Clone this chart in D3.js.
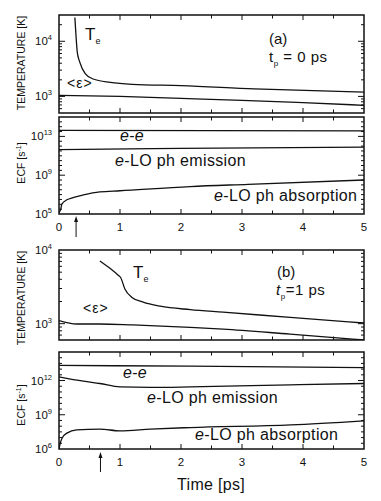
<!DOCTYPE html>
<html>
<head>
<meta charset="utf-8">
<script src="https://cdn.jsdelivr.net/npm/d3@7"></script>
<style>
  html, body { margin: 0; padding: 0; background: #fff; }
  svg { display: block; font-family: "Liberation Sans", Arial, Helvetica, sans-serif; }
</style>
</head>
<body>
<svg id="chart" width="381" height="501"></svg>
<script>
// --- data ---
const timeTicks = [0, 1, 2, 3, 4, 5];

// (a) t_p = 0 ps
const teA_t = [0.26, 0.28, 0.30, 0.34, 0.43, 0.56, 0.84, 1.2, 2.0, 3.2, 5];
const teA_v = [27000, 12000, 6300, 4200, 2600, 2070, 1800, 1660, 1570, 1370, 1195];
const epsA_t = [0, 1, 2, 3, 4, 5];
const epsA_v = [1040, 1000, 920, 850, 770, 690];
const eeA_t = [0, 5];
const eeA_v = [4.2e13, 3.8e13];
const emA_t = [0, 2, 5];
const emA_v = [4.3e11, 5.8e11, 8.0e11];
const abA_t = [0, 0.03, 0.045, 0.13, 0.23, 0.4, 0.67, 1.0, 2.15, 3.1, 5];
const abA_v = [1.4e5, 3.2e5, 1.0e6, 2.9e6, 5.0e6, 9.3e6, 1.9e7, 2.5e7, 6.8e7, 1.15e8, 3.2e8];
const arrowA_t = 0.28;

// (b) t_p = 1 ps
const teB_t = [0.67, 0.84, 0.97, 1.01, 1.08, 1.19, 1.38, 1.66, 2.15, 2.69, 3.79, 5];
const teB_v = [7100, 5600, 4550, 4230, 2960, 2290, 1960, 1725, 1550, 1430, 1220, 1020];
const epsB_t = [0, 0.29, 0.67, 1.21, 2.15, 2.69, 3.79, 5];
const epsB_v = [1100, 990, 990, 960, 890, 845, 720, 600];
const eeB_t = [0, 2.15, 5];
const eeB_v = [2.1e13, 1.8e13, 1.35e13];
const emB_t = [0, 0.4, 0.67, 1.0, 1.5, 2.15, 3.79, 5];
const emB_v = [2.1e12, 8.7e11, 5.5e11, 2.75e11, 2.5e11, 2.75e11, 4.2e11, 5.5e11];
const abB_t = [0, 0.02, 0.05, 0.13, 0.29, 0.67, 1.0, 1.5, 2.15, 3.8, 5];
const abB_v = [1e6, 3.2e6, 8.9e6, 2.45e7, 4.8e7, 5.5e7, 3.9e7, 5.5e7, 7.6e7, 1.3e8, 2.95e8];
const arrowB_t = 0.68;

const svg = d3.select("#chart");
const left = 59, right = 364;
const x = d3.scaleLinear().domain([0, 5]).range([left, right]);
const ink = "#111";

let clipId = 0;

// one framed log panel, ticks inward on all four sides
function panel(top, bottom, domain, minorTicks, labelTicks) {
  const y = d3.scaleLog().domain(domain).range([bottom, top]);
  const g = svg.append("g");
  const id = "clip" + (clipId++);
  svg.append("clipPath").attr("id", id)
    .append("rect").attr("x", left).attr("y", top)
    .attr("width", right - left).attr("height", bottom - top);

  // x ticks every 0.5
  d3.range(0.5, 5, 0.5).forEach(t => {
    const len = Number.isInteger(t) ? 5 : 3.5;
    g.append("line").attr("x1", x(t)).attr("x2", x(t))
      .attr("y1", bottom).attr("y2", bottom - len).attr("stroke", ink).attr("stroke-width", 1);
    g.append("line").attr("x1", x(t)).attr("x2", x(t))
      .attr("y1", top).attr("y2", top + len).attr("stroke", ink).attr("stroke-width", 1);
  });

  // y ticks
  minorTicks.forEach(v => {
    const yy = y(v);
    if (yy < top + 0.5 || yy > bottom - 0.5) return;
    const major = labelTicks.indexOf(v) >= 0;
    const len = major ? 6 : 3;
    g.append("line").attr("x1", left).attr("x2", left + len)
      .attr("y1", yy).attr("y2", yy).attr("stroke", ink).attr("stroke-width", 1);
    g.append("line").attr("x1", right).attr("x2", right - len)
      .attr("y1", yy).attr("y2", yy).attr("stroke", ink).attr("stroke-width", 1);
  });

  labelTicks.forEach(v => {
    const txt = g.append("text").attr("x", 52).attr("y", y(v) + 4)
      .attr("text-anchor", "end").attr("font-size", 11.5).attr("fill", ink);
    txt.append("tspan").text("10");
    txt.append("tspan").attr("dy", -5).attr("font-size", 7.5)
      .text(Math.round(Math.log10(v)));
  });

  g.append("rect").attr("x", left).attr("y", top)
    .attr("width", right - left).attr("height", bottom - top)
    .attr("fill", "none").attr("stroke", ink).attr("stroke-width", 1.5);

  return { y, g, clip: "url(#" + id + ")" };
}

function curve(p, ts, vs) {
  const line = d3.line().x(d => x(d[0])).y(d => p.y(d[1])).curve(d3.curveMonotoneX);
  p.g.append("path").datum(ts.map((t, i) => [t, vs[i]]))
    .attr("d", line).attr("clip-path", p.clip)
    .attr("fill", "none").attr("stroke", ink).attr("stroke-width", 1.3);
}

function tempTicks(lo, hi) {
  const out = [];
  for (let e = 2; e <= 4; e++) for (let k = 1; k < 10; k++) {
    const v = k * Math.pow(10, e);
    if (v >= lo && v <= hi) out.push(v);
  }
  return out;
}
function halfDecades(lo, hi) {
  const out = [];
  for (let e = Math.log10(lo); e <= Math.log10(hi) + 1e-9; e += 0.5) out.push(Math.pow(10, e));
  return out.map(v => {
    const r = Math.round(Math.log10(v));
    return Math.abs(Math.log10(v) - r) < 1e-6 ? Math.pow(10, r) : v;
  });
}

function xLabels(baseline) {
  timeTicks.forEach(t => {
    svg.append("text").attr("x", x(t)).attr("y", baseline)
      .attr("text-anchor", "middle").attr("font-size", 11.5).attr("fill", ink).text(t);
  });
}

function arrow(t, tipY, tailY) {
  const ax = x(t);
  svg.append("line").attr("x1", ax).attr("x2", ax).attr("y1", tipY + 4).attr("y2", tailY)
    .attr("stroke", ink).attr("stroke-width", 1);
  svg.append("path")
    .attr("d", `M${ax},${tipY} L${ax - 2},${tipY + 6} L${ax + 2},${tipY + 6} Z`)
    .attr("fill", ink);
}

function yTitle(cx, cy, parts) {
  const txt = svg.append("text").attr("transform", `translate(${cx},${cy}) rotate(-90)`)
    .attr("text-anchor", "middle").attr("font-size", 10.5).attr("fill", ink);
  parts.forEach(p => {
    const s = txt.append("tspan").text(p.text);
    if (p.sup) s.attr("font-size", 7).attr("dy", -4);
    if (p.down) s.attr("dy", 4);
  });
}

function label(px, py, parts, size, spacing) {
  const txt = svg.append("text").attr("x", px).attr("y", py)
    .attr("font-size", size).attr("fill", ink)
    .attr("letter-spacing", spacing || 0);
  parts.forEach(p => {
    const s = txt.append("tspan").text(p.text);
    if (p.italic) s.attr("font-style", "italic");
    if (p.sub) s.attr("font-size", p.sub).attr("dy", p.dy);
    if (p.back) s.attr("dy", p.back);
  });
  return txt;
}

// --- (a) ---
const tA = panel(15, 113, [500, 30000], tempTicks(500, 30000), [1e3, 1e4]);
curve(tA, teA_t, teA_v);
curve(tA, epsA_t, epsA_v);
const eA = panel(117, 214, [1e5, 1e15], halfDecades(1e5, 1e15), [1e5, 1e9, 1e13]);
curve(eA, eeA_t, eeA_v);
curve(eA, emA_t, emA_v);
curve(eA, abA_t, abA_v);
xLabels(231);
arrow(arrowA_t, 216, 237);

label(85, 40, [{ text: "T" }, { text: "e", sub: 9, dy: 4 }], 17);
label(67, 88, [{ text: "<ε>" }], 14, 1);
label(269, 43.5, [{ text: "(a)" }], 15);
label(269, 62, [{ text: "t" }, { text: "p", sub: 8, dy: 4 }, { text: " = 0 ps", back: -4 }], 15, 0.5);
label(120, 141, [{ text: "e", italic: true }, { text: "-" }, { text: "e", italic: true }], 16, 0.3);
label(115, 166, [{ text: "e", italic: true }, { text: "-LO ph emission" }], 16, 0.35);
label(214, 200.5, [{ text: "e", italic: true }, { text: "-LO ph absorption" }], 16, 0.35);

// --- (b) ---
const tB = panel(250, 340, [600, 10000], tempTicks(600, 10000), [1e3, 1e4]);
curve(tB, teB_t, teB_v);
curve(tB, epsB_t, epsB_v);
const eB = panel(352, 449, [1e6, Math.pow(10, 14.5)], halfDecades(1e6, Math.pow(10, 14.5)), [1e6, 1e9, 1e12]);
curve(eB, eeB_t, eeB_v);
curve(eB, emB_t, emB_v);
curve(eB, abB_t, abB_v);
xLabels(466);
arrow(arrowB_t, 452, 472);

label(133, 278, [{ text: "T" }, { text: "e", sub: 9, dy: 4 }], 17);
label(83, 313, [{ text: "<ε>" }], 14, 1);
label(277, 276.5, [{ text: "(b)" }], 15);
label(276, 295, [{ text: "t", italic: true }, { text: "p", sub: 8, dy: 4 }, { text: "=1 ps", back: -4 }], 15, 0.5);
label(123, 377.5, [{ text: "e", italic: true }, { text: "-" }, { text: "e", italic: true }], 16, 0.3);
label(147, 402.5, [{ text: "e", italic: true }, { text: "-LO ph emission" }], 16, 0.35);
label(195, 440, [{ text: "e", italic: true }, { text: "-LO ph absorption" }], 16, 0.35);

// axis titles
yTitle(25, 63, [{ text: "TEMPERATURE [K]" }]);
yTitle(25, 163, [{ text: "ECF [s" }, { text: "-1", sup: true }, { text: "]", down: true }]);
yTitle(25, 298, [{ text: "TEMPERATURE [K]" }]);
yTitle(25, 405, [{ text: "ECF [s" }, { text: "-1", sup: true }, { text: "]", down: true }]);

svg.append("text").attr("x", 211).attr("y", 490).attr("text-anchor", "middle")
  .attr("font-size", 16).attr("fill", ink).attr("letter-spacing", 0.3).text("Time [ps]");
</script>
</body>
</html>
